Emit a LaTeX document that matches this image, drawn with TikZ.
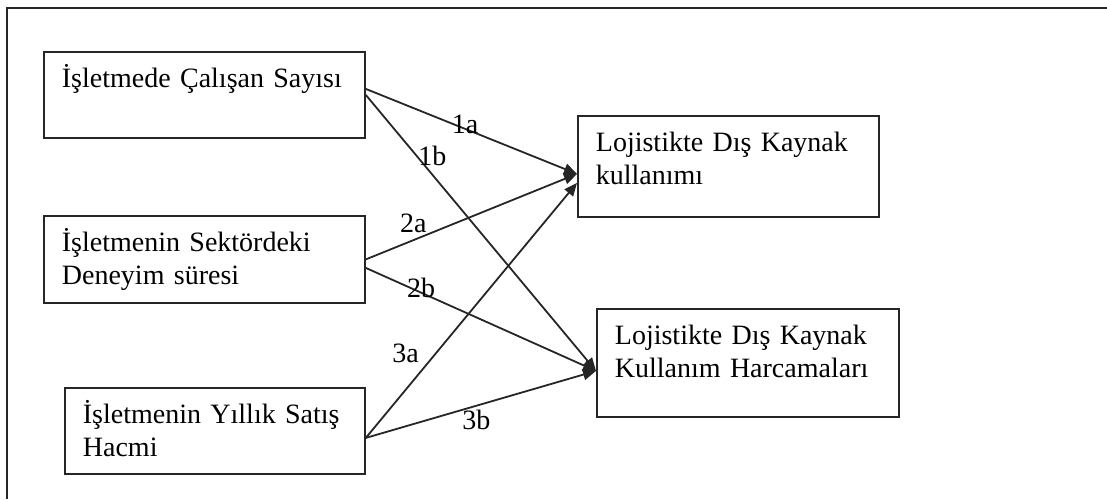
\documentclass[tikz,border=0pt]{standalone}
\usepackage{fontspec}
\setmainfont{Liberation Serif}
\usetikzlibrary{arrows.meta}

\begin{document}
\begin{tikzpicture}[x=0.5pt, y=-0.5pt,
  cell/.style={draw=black!85, line width=0.9pt, rectangle, anchor=north west, align=left,
    inner xsep=9pt, inner ysep=0pt, text height=18pt,
    font=\fontsize{14}{16.5}\selectfont},
  link/.style={draw=black!85, line width=0.9pt, -{Triangle[length=6.5pt,width=5.5pt]}},
  tag/.style={font=\fontsize{14}{16.5}\selectfont, inner sep=0pt}]
\useasboundingbox (0,0) rectangle (1107,499);
\draw[black!85, line width=1pt] (1107,8) -| (7,499);
% left column
\node[cell, text width=142.5pt, text depth=25pt] (emp) at (43,51) {İşletmede Çalışan Sayısı};
\node[cell, text width=142.5pt, text depth=25.5pt] (exp) at (43,215) {İşletmenin Sektördeki\\Deneyim süresi};
\node[cell, text width=132pt, text depth=25pt] (sal) at (64,387) {İşletmenin Yıllık Satış\\Hacmi};
% right column
\node[cell, text width=132.5pt, text depth=32.5pt] (use) at (577,115) {Lojistikte Dış Kaynak\\kullanımı};
\node[cell, text width=133pt, text depth=36pt] (cost) at (596,308) {Lojistikte Dış Kaynak\\Kullanım Harcamaları};
% paths
\draw[link] ([yshift=3pt]emp.east) -- ([yshift=-3.75pt]use.west) node[tag, pos=0.47, yshift=2pt] (l1a) {1a};
\draw[link] (emp.east) -- ([yshift=-4pt]cost.west) node[tag, pos=0.22, xshift=8pt] (l1b) {1b};
\draw[link] (exp.east) -- ([yshift=-3.75pt]use.west) node[tag, pos=0.225, yshift=8.5pt] (l2a) {2a};
\draw[link] ([yshift=-4.25pt]exp.east) -- ([yshift=-4pt]cost.west) node[tag, pos=0.24, yshift=2.5pt] (l2b) {2b};
\draw[link] ([yshift=-3.5pt]sal.east) -- ([yshift=-8.25pt]use.west) node[tag, pos=0.33, xshift=-15pt] (l3a) {3a};
\draw[link] ([yshift=-3.5pt]sal.east) -- ([yshift=-4pt]cost.west) node[tag, pos=0.48, yshift=-7pt] (l3b) {3b};
\end{tikzpicture}
\end{document}
